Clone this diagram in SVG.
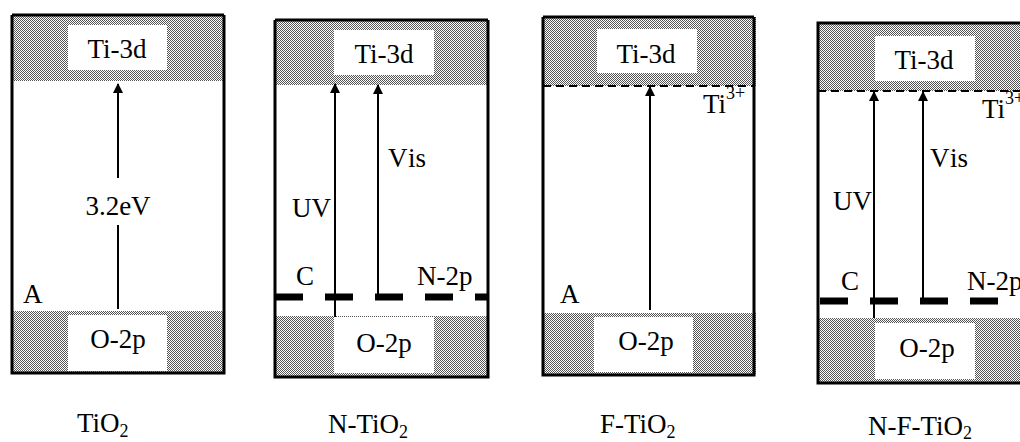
<svg xmlns="http://www.w3.org/2000/svg" width="1020" height="442" viewBox="0 0 1020 442" font-family="'Liberation Serif', 'DejaVu Serif', serif">
<style>
text{font-family:"Liberation Serif","DejaVu Serif",serif;font-size:27px;fill:#000}
.s{font-size:18px}
.box{fill:none;stroke:#000;stroke-width:3}
.lbl{fill:#fff}
.arr{stroke:#000;stroke-width:2;fill:none}
.thin{stroke:#000;stroke-width:2;stroke-dasharray:8 5;fill:none}
.thick{stroke:#000;stroke-width:7;stroke-dasharray:28 22;fill:none}
</style>
<defs>
<pattern id="hatch" width="2" height="2" patternUnits="userSpaceOnUse">
<rect width="2" height="2" fill="#fff"/>
<rect width="1" height="1" fill="#555"/>
<rect x="1" y="1" width="1" height="1" fill="#555"/>
</pattern>
<marker id="ah" viewBox="0 0 10 12" refX="9" refY="6" markerWidth="10" markerHeight="12" markerUnits="userSpaceOnUse" orient="auto">
<path d="M0,1 L10,6 L0,11 Z" fill="#000"/>
</marker>
</defs>
<rect width="1020" height="442" fill="#fff"/>

<g id="panel-tio2">
<rect x="12" y="15" width="212" height="66" fill="url(#hatch)"/>
<rect x="12" y="311" width="212" height="62" fill="url(#hatch)"/>
<rect class="lbl" x="68" y="25" width="99" height="45"/>
<rect class="lbl" x="68" y="315" width="99" height="56"/>
<path class="box" d="M12,15 H224 M12,15 V373 H224 V15"/>
<text x="117" y="58" text-anchor="middle">Ti-3d</text>
<text x="118" y="348" text-anchor="middle">O-2p</text>
<text x="118" y="215" text-anchor="middle">3.2eV</text>
<text x="23" y="303">A</text>
<text x="77" y="432">TiO<tspan class="s" dy="5">2</tspan></text>
</g>

<g id="panel-n-tio2">
<rect x="275" y="20" width="213" height="65" fill="url(#hatch)"/>
<rect x="275" y="316" width="213" height="61" fill="url(#hatch)"/>
<rect class="lbl" x="334" y="30" width="100" height="45"/>
<rect class="lbl" x="334" y="317" width="100" height="56"/>
<path class="box" d="M275,20 H488 M275,20 V377 H488 V20"/>
<line class="thick" x1="275" y1="297" x2="488" y2="297"/>
<text x="384" y="63" text-anchor="middle">Ti-3d</text>
<text x="384" y="352" text-anchor="middle">O-2p</text>
<text x="292" y="217">UV</text>
<text x="388" y="167">V<tspan dx="2">is</tspan></text>
<text x="296" y="285">C</text>
<text x="417" y="285">N-2p</text>
<text x="328" y="433">N-TiO<tspan class="s" dy="5">2</tspan></text>
</g>

<g id="panel-f-tio2">
<rect x="543" y="17" width="213" height="69" fill="url(#hatch)"/>
<rect x="543" y="313" width="213" height="62" fill="url(#hatch)"/>
<rect class="lbl" x="597" y="29" width="100" height="44"/>
<rect class="lbl" x="594" y="317" width="99" height="55"/>
<path class="box" d="M543,17 H754 M543,17 V375 H754 V17"/>
<line class="thin" x1="543" y1="86" x2="754" y2="86"/>
<text x="646" y="63" text-anchor="middle">Ti-3d</text>
<text x="646" y="350" text-anchor="middle">O-2p</text>
<text x="703" y="113">Ti<tspan class="s" dy="-14">3+</tspan></text>
<text x="560" y="303">A</text>
<text x="600" y="433">F-TiO<tspan class="s" dy="5">2</tspan></text>
</g>

<g id="panel-n-f-tio2">
<rect x="818" y="23" width="210" height="68" fill="url(#hatch)"/>
<rect x="818" y="318" width="210" height="65" fill="url(#hatch)"/>
<rect class="lbl" x="875" y="36" width="100" height="45"/>
<rect class="lbl" x="875" y="323" width="100" height="56"/>
<path class="box" d="M1030,23 H818 V383 H1030"/>
<line class="thin" x1="818" y1="91" x2="1020" y2="91"/>
<line class="thick" x1="820" y1="301" x2="1030" y2="301"/>
<text x="924" y="69" text-anchor="middle">Ti-3d</text>
<text x="927" y="357" text-anchor="middle">O-2p</text>
<text x="982" y="118">Ti<tspan class="s" dy="-14">3+</tspan></text>
<text x="833" y="210">UV</text>
<text x="930" y="167">V<tspan dx="2">is</tspan></text>
<text x="841" y="290">C</text>
<text x="967" y="290">N-2p</text>
<text x="868" y="435">N-F-TiO<tspan class="s" dy="4">2</tspan></text>
</g>

<g id="connectors">
<line class="arr" x1="118" y1="309" x2="118" y2="225"/>
<line class="arr" x1="118" y1="178" x2="118" y2="84" marker-end="url(#ah)"/>
<line class="arr" x1="335" y1="317" x2="335" y2="84" marker-end="url(#ah)"/>
<line class="arr" x1="378" y1="297" x2="378" y2="85" marker-end="url(#ah)"/>
<line class="arr" x1="650" y1="310" x2="650" y2="87" marker-end="url(#ah)"/>
<line class="arr" x1="874" y1="318" x2="874" y2="92" marker-end="url(#ah)"/>
<line class="arr" x1="923" y1="301" x2="923" y2="92" marker-end="url(#ah)"/>
</g>
</svg>
